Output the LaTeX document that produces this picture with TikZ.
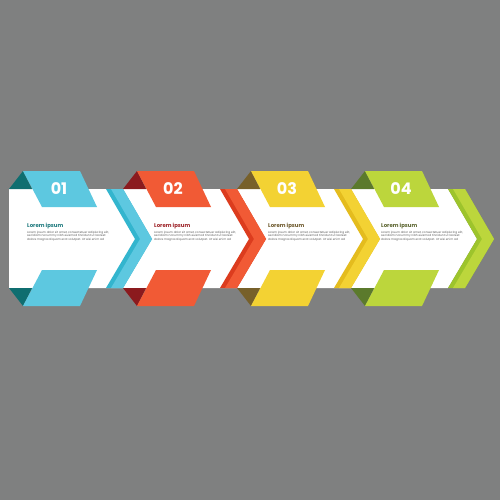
\documentclass[tikz,border=0pt]{standalone}
\usepackage{fontspec}
\setmainfont{Poppins}

\definecolor{bggray}{HTML}{7F8080}
\definecolor{cyanlight}{HTML}{5DC8E0}
\definecolor{cyandark}{HTML}{33B5CE}
\definecolor{cyanfold}{HTML}{0F6E70}
\definecolor{cyantitle}{HTML}{1F7A7E}
\definecolor{redlight}{HTML}{F15A35}
\definecolor{reddark}{HTML}{DC3C1E}
\definecolor{redfold}{HTML}{8B1A1E}
\definecolor{redtitle}{HTML}{9E2429}
\definecolor{yellowlight}{HTML}{F3D233}
\definecolor{yellowdark}{HTML}{E4BC1E}
\definecolor{yellowfold}{HTML}{77602A}
\definecolor{yellowtitle}{HTML}{6E5A2E}
\definecolor{greenlight}{HTML}{BCD63C}
\definecolor{greendark}{HTML}{9DC42C}
\definecolor{greenfold}{HTML}{5B7A2C}
\definecolor{greentitle}{HTML}{5C6530}
\definecolor{bodygray}{HTML}{5A5A5A}

\tikzset{
  numtext/.style={text=white, font=\fontsize{16}{16}\selectfont\bfseries},
  titletext/.style={anchor=west, inner sep=0pt, font=\fontsize{5.4}{5.4}\selectfont\bfseries},
  bodytext/.style={anchor=north west, inner sep=0pt, align=left, text=bodygray, font=\fontsize{2.9}{3.5}\selectfont},
}

\newcommand{\loremlines}{Lorem ipsum dolor sit amet, consectetuer adipiscing elit,\\sed diam nonummy nibh euismod tincidunt ut laoreet\\dolore magna aliquam erat volutpat. Ut wisi enim ad}

\begin{document}
\begin{tikzpicture}[x=1pt, y=-1pt]
	% BACKGROUND
	\fill[bggray] (0,0) rectangle (500,500);
	\useasboundingbox (0,0) rectangle (500,500);

	% WHITE BAND WITH ARROW TIP
	\fill[white] (9,189) -- (448,189) -- (477,239) -- (448,288) -- (9,288) -- cycle;

	% CHEVRONS (DARK BACK, LIGHT FRONT)
	\fill[cyandark] (106,189) -- (123,189) -- (152,239) -- (123,288) -- (106,288) -- (135,239) -- cycle;
	\fill[cyanlight] (111,189) -- (123,189) -- (152,239) -- (123,288) -- (111,288) -- (140,239) -- cycle;

	\fill[reddark] (220,189) -- (237,189) -- (266,239) -- (237,288) -- (220,288) -- (249,239) -- cycle;
	\fill[redlight] (225,189) -- (237,189) -- (266,239) -- (237,288) -- (225,288) -- (254,239) -- cycle;

	\fill[yellowdark] (334,189) -- (351,189) -- (380,239) -- (351,288) -- (334,288) -- (363,239) -- cycle;
	\fill[yellowlight] (339,189) -- (351,189) -- (380,239) -- (351,288) -- (339,288) -- (368,239) -- cycle;

	\fill[greendark] (448,189) -- (465,189) -- (494,239) -- (465,288) -- (448,288) -- (477,239) -- cycle;
	\fill[greenlight] (453,189) -- (465,189) -- (494,239) -- (465,288) -- (453,288) -- (482,239) -- cycle;

	% FOLDS BEHIND THE TABS
	\fill[cyanfold] (9,189) -- (23,171) -- (32,189) -- cycle;
	\fill[cyanfold] (9,288) -- (23,306) -- (32,288) -- cycle;
	\fill[redfold] (123,189) -- (137,171) -- (146,189) -- cycle;
	\fill[redfold] (123,288) -- (137,306) -- (146,288) -- cycle;
	\fill[yellowfold] (237,189) -- (251,171) -- (260,189) -- cycle;
	\fill[yellowfold] (237,288) -- (251,306) -- (260,288) -- cycle;
	\fill[greenfold] (351,189) -- (365,171) -- (374,189) -- cycle;
	\fill[greenfold] (351,288) -- (365,306) -- (374,288) -- cycle;

	% TOP AND BOTTOM TABS
	\fill[cyanlight] (23,171) -- (80,171) -- (97,207) -- (42,207) -- cycle;
	\fill[cyanlight] (42,270) -- (97,270) -- (80,306) -- (23,306) -- cycle;
	\fill[redlight] (137,171) -- (194,171) -- (211,207) -- (156,207) -- cycle;
	\fill[redlight] (156,270) -- (211,270) -- (194,306) -- (137,306) -- cycle;
	\fill[yellowlight] (251,171) -- (308,171) -- (325,207) -- (270,207) -- cycle;
	\fill[yellowlight] (270,270) -- (325,270) -- (308,306) -- (251,306) -- cycle;
	\fill[greenlight] (365,171) -- (422,171) -- (439,207) -- (384,207) -- cycle;
	\fill[greenlight] (384,270) -- (439,270) -- (422,306) -- (365,306) -- cycle;

	% NUMBERS
	\node[numtext] (num1) at (59,189) {01};
	\node[numtext] (num2) at (173,189) {02};
	\node[numtext] (num3) at (287,189) {03};
	\node[numtext] (num4) at (401,189) {04};

	% TITLES
	\node[titletext, text=cyantitle] (title1) at (27,226) {Lorem ipsum};
	\node[titletext, text=redtitle] (title2) at (154,226) {Lorem ipsum};
	\node[titletext, text=yellowtitle] (title3) at (268,226) {Lorem ipsum};
	\node[titletext, text=greentitle] (title4) at (381,226) {Lorem ipsum};

	% BODY TEXT
	\node[bodytext] (body1) at (27,231) {\loremlines};
	\node[bodytext] (body2) at (154,231) {\loremlines};
	\node[bodytext] (body3) at (268,231) {\loremlines};
	\node[bodytext] (body4) at (381,231) {\loremlines};
\end{tikzpicture}
\end{document}
